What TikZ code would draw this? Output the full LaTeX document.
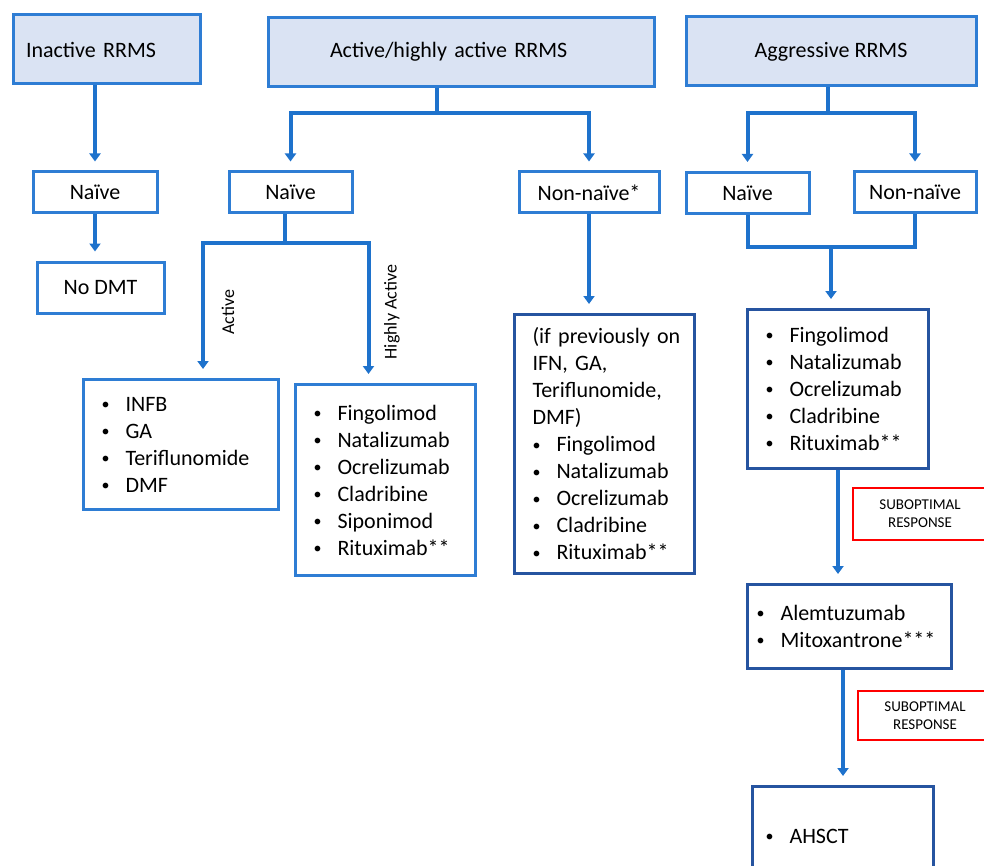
\documentclass[tikz,border=0pt]{standalone}
\usepackage{fontspec}
\setmainfont{Carlito}
\usetikzlibrary{arrows.meta,calc}
\definecolor{headfill}{RGB}{218,227,243}
\definecolor{boxblue}{RGB}{46,125,212}
\definecolor{darkbox}{RGB}{38,84,160}
\definecolor{arrblue}{RGB}{30,114,204}
\newcommand{\bitem}[1]{\makebox[12pt][l]{\raisebox{0.15ex}{\fontsize{8}{8}\selectfont\textbullet}}#1}
\begin{document}
\begin{tikzpicture}[x=0.5pt,y=-0.5pt,>={Triangle[length=4pt,width=5.5pt]},
 font=\fontsize{11}{13.5}\selectfont,
 headbox/.style={draw=boxblue,fill=headfill,line width=1.5pt,minimum height=34.5pt},
 catbox/.style={draw=boxblue,line width=1.5pt,minimum height=20.5pt},
 listbox/.style={draw=boxblue,line width=1.5pt,inner xsep=9pt,align=left,anchor=north west},
 redbox/.style={draw=red,line width=1.2pt,align=center,minimum width=67pt,font=\fontsize{7.5}{9}\selectfont},
 sidelabel/.style={rotate=90,font=\fontsize{9}{11}\selectfont},
 link/.style={draw=arrblue,line width=2pt},
 arr/.style={link,->,shorten >=4.5pt}]
 \useasboundingbox (0,0) rectangle (984,866);
 \clip (0,0) rectangle (984,866);
 \node[headbox,minimum width=93.5pt,inner xsep=6.5pt,text width=80.5pt,align=left] (inact) at (106.5,49.5) {Inactive RRMS};
 \node[headbox,minimum width=193pt,inner xsep=31pt,text width=131pt,align=left] (active) at (461,52) {Active/highly active RRMS};
 \node[headbox,minimum width=145pt] (aggr) at (831,51.5) {Aggressive RRMS};
 \node[catbox,minimum width=62pt] (naiveA) at (95,192.5) {Naïve};
 \node[catbox,minimum width=63.5pt,minimum height=25.5pt] (nodmt) at (100.5,287.5) {No DMT};
 \node[catbox,minimum width=61.5pt] (naiveB) at (290.5,192.5) {Naïve};
 \node[catbox,minimum width=70pt] (nonnB) at (589,192.5) {Non-naïve*};
 \node[catbox,minimum width=61.5pt] (naiveC) at (747.5,193) {Naïve};
 \node[catbox,minimum width=61pt] (nonnC) at (915,192.5) {Non-naïve};
 \node[listbox,text width=79.5pt,minimum height=65pt] (infb) at (82,378) {\bitem{INFB}\\\bitem{GA}\\\bitem{Teriflunomide}\\\bitem{DMF}};
 \node[listbox,text width=72pt,minimum height=95.5pt] (hact) at (294,383) {\bitem{Fingolimod}\\\bitem{Natalizumab}\\\bitem{Ocrelizumab}\\\bitem{Cladribine}\\\bitem{Siponimod}\\\bitem{Rituximab**}};
 \node[listbox,draw=darkbox,text width=72pt,minimum height=129.5pt] (prev) at (513,313) {\mbox{(if previously on}\\IFN, GA,\\Teriflunomide,\\DMF)\\\bitem{Fingolimod}\\\bitem{Natalizumab}\\\bitem{Ocrelizumab}\\\bitem{Cladribine}\\\bitem{Rituximab**}};
 \node[listbox,draw=darkbox,text width=72.5pt,minimum height=79.5pt] (aggl) at (746,308) {\bitem{Fingolimod}\\\bitem{Natalizumab}\\\bitem{Ocrelizumab}\\\bitem{Cladribine}\\\bitem{Rituximab**}};
 \node[listbox,draw=darkbox,inner xsep=4.5pt,text width=93pt,minimum height=42pt] (alem) at (746,583) {\bitem{Alemtuzumab}\\\bitem{Mitoxantrone***}};
 \node[listbox,draw=darkbox,inner xsep=6.5pt,text width=77.5pt,minimum height=50pt] (ahsct) at (751,785) {\bitem{AHSCT}};
 \node[redbox,minimum height=26pt] (sub1) at (920,514) {SUBOPTIMAL\\RESPONSE};
 \node[redbox,minimum height=24.5pt] (sub2) at (925,715.5) {SUBOPTIMAL\\RESPONSE};
 \node[sidelabel] (lact) at (228,312) {Active};
 \node[sidelabel] (lhact) at (392,312) {Highly Active};
 \draw[arr] (inact.south -| naiveA.north) -- (naiveA.north);
 \draw[arr] (naiveA.south) -- (naiveA.south |- nodmt.north);
 \coordinate (jA) at (437,113);
 \draw[arr] (active.south -| jA) -- (jA) -| (naiveB.north);
 \draw[arr] (jA) -| (nonnB.north);
 \coordinate (jB) at (285,243);
 \draw[link] (naiveB.south -| jB) -- (jB);
 \draw[arr] (jB) -| ($(infb.north)+(22,0)$);
 \draw[arr] (jB) -| ($(hact.north)+(-17,0)$);
 \draw[arr] (nonnB.south) -- (nonnB.south |- prev.north);
 \coordinate (jC) at (828,113);
 \draw[arr] (aggr.south -| jC) -- (jC) -| (naiveC.north);
 \draw[arr] (jC) -| (nonnC.north);
 \coordinate (jM) at (831,247);
 \draw[link] (naiveC.south) |- (jM) -| (nonnC.south);
 \draw[arr] (jM) -- (jM |- aggl.north);
 \draw[arr] (aggl.south) -- (aggl.south |- alem.north);
 \draw[arr] (alem.south -| ahsct.north) -- (ahsct.north);
\end{tikzpicture}
\end{document}
